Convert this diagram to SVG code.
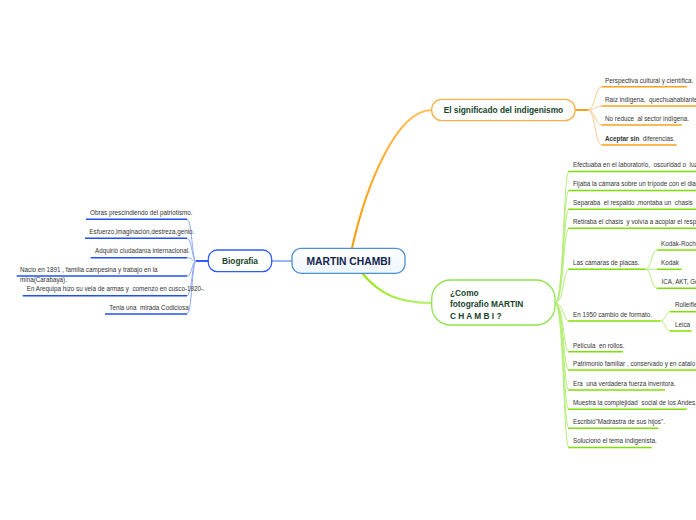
<svg xmlns="http://www.w3.org/2000/svg" width="696" height="520" viewBox="0 0 696 520">
<style>
.t{font-family:"Liberation Sans",Arial,sans-serif;font-size:6.3px;fill:#333;white-space:pre}
.nb{font-family:"Liberation Sans",Arial,sans-serif;font-weight:bold;font-size:8.3px;fill:#16432c}
.cb{font-family:"Liberation Sans",Arial,sans-serif;font-weight:bold;font-size:10.3px;fill:#13244a}
.ub{stroke:#2150f0;stroke-width:1.5;fill:none}
.cbl{stroke:#8ea9fb;stroke-width:1;fill:none}
.uo{stroke:#f7a21b;stroke-width:1.5;fill:none}
.co{stroke:#fcc98a;stroke-width:1;fill:none}
.ug{stroke:#7ee000;stroke-width:1.5;fill:none}
.cg{stroke:#b6ef7a;stroke-width:1;fill:none}
</style>
<defs>
<linearGradient id="go" x1="0" y1="1" x2="1" y2="0">
<stop offset="0" stop-color="#ff9a00"/><stop offset="1" stop-color="#ffc15e"/>
</linearGradient>
<linearGradient id="gg" x1="0" y1="0" x2="1" y2="1">
<stop offset="0" stop-color="#8ee600"/><stop offset="1" stop-color="#b8f070"/>
</linearGradient>
<linearGradient id="gc" x1="0" y1="0" x2="0" y2="1">
<stop offset="0" stop-color="#ffffff"/><stop offset="1" stop-color="#eef6ff"/>
</linearGradient>
</defs>
<rect width="696" height="520" fill="#fff"/>
<g id="connectors">
<path d="M352,248 C365,190 395,110 432,110" stroke="url(#go)" stroke-width="2" fill="none"/>
<path d="M362,273 C380,295 400,303 432,303" stroke="url(#gg)" stroke-width="2" fill="none"/>
<path d="M272,261 H292" stroke="#9ab5f0" stroke-width="2" fill="none"/>
<!-- biografia fan -->
<path d="M208,261 H196" stroke="#2f5cff" stroke-width="2" fill="none"/>
<path class="cbl" d="M196,261 C192,261 192,219.3 187,219.3"/>
<path class="cbl" d="M196,261 C192,261 192,238.3 187,238.3"/>
<path class="cbl" d="M196,261 C192,261 192,257.7 187,257.7"/>
<path class="cbl" d="M196,261 C192,261 192,276 187,276"/>
<path class="cbl" d="M196,261 C192,261 192,295.7 187,295.7"/>
<path class="cbl" d="M196,261 C192,261 192,314 187,314"/>
<!-- orange fan -->
<path d="M575,110 H588" stroke="#f7a21b" stroke-width="2" fill="none"/>
<path class="co" d="M588,110 C595,110 595,86.7 602,86.7"/>
<path class="co" d="M588,110 C595,110 595,106 602,106"/>
<path class="co" d="M588,110 C595,110 595,125 602,125"/>
<path class="co" d="M588,110 C595,110 595,145 602,145"/>
<!-- green fan -->
<path class="cg" d="M555,303 C564,303 563,171.5 569,171.5"/>
<path class="cg" d="M555,303 C564,303 563,190.5 569,190.5"/>
<path class="cg" d="M555,303 C564,303 563,209.3 569,209.3"/>
<path class="cg" d="M555,303 C564,303 563,228.3 569,228.3"/>
<path class="cg" d="M555,303 C564,303 563,269.3 569,269.3"/>
<path class="cg" d="M555,303 C564,303 563,321 569,321"/>
<path class="cg" d="M555,303 C564,303 563,351.7 569,351.7"/>
<path class="cg" d="M555,303 C564,303 563,370 569,370"/>
<path class="cg" d="M555,303 C564,303 563,390 569,390"/>
<path class="cg" d="M555,303 C564,303 563,409.3 569,409.3"/>
<path class="cg" d="M555,303 C564,303 563,428.3 569,428.3"/>
<path class="cg" d="M555,303 C564,303 563,447.5 569,447.5"/>
<!-- sub fans -->
<path class="cg" d="M645,269.3 C652,269.3 651,250 657,250"/>
<path class="cg" d="M645,269.3 H657"/>
<path class="cg" d="M645,269.3 C652,269.3 651,288.3 657,288.3"/>
<path class="cg" d="M660,321 C666,321 665,311.7 670,311.7"/>
<path class="cg" d="M660,321 C666,321 665,331 670,331"/>
</g>
<g id="central">
<rect x="292" y="248.3" width="113" height="25" rx="9" fill="url(#gc)" stroke="#4a8fd6" stroke-width="1.3"/>
<text class="cb" x="348.5" y="265.3" text-anchor="middle">MARTIN CHAMBI</text>
</g>
<g id="biografia">
<rect x="208.3" y="250" width="63.4" height="21.7" rx="9" fill="#fff" stroke="#2f5cff" stroke-width="1.3"/>
<text class="nb" x="240" y="264" text-anchor="middle">Biografia</text>
</g>
<g id="bio-items">
<path class="ub" d="M86,219.3 H187"/><text class="t" x="90" y="214.9">Obras prescindiendo del patriotismo.</text>
<path class="ub" d="M85,238.3 H187"/><text class="t" x="89.3" y="233.9">Esfuerzo,imaginación,destreza,genio.</text>
<path class="ub" d="M90.7,257.7 H187"/><text class="t" x="95" y="252.9">Adquirió ciudadanía internacional.</text>
<path class="ub" d="M16.7,276 H187"/><text class="t" x="20" y="272.2">Nacio en 1891 , familia campesina y trabajo en la</text><text class="t" x="20" y="281.5">mina(Carabaya).</text>
<path class="ub" d="M22.7,295.7 H187"/><text class="t" x="26.7" y="291.2">En Arequipa hizo su vela de armas y  comenzo en cusco-1920-.</text>
<path class="ub" d="M105,314 H187"/><text class="t" x="109.3" y="309.9">Tenia una  mirada Codiciosa</text>
</g>
<g id="indigenismo">
<rect x="431.7" y="99.3" width="143.3" height="21.4" rx="10" fill="#fff" stroke="#f9b04a" stroke-width="1.3"/>
<text class="nb" x="503.4" y="113" text-anchor="middle">El significado del indigenismo</text>
</g>
<g id="indigenismo-items">
<path class="uo" d="M601.7,86.7 H686.7"/><text class="t" x="605" y="83.2">Perspectiva cultural y científica.</text>
<path class="uo" d="M601.7,106 H696"/><text class="t" x="605" y="102.2">Raíz indígena,  quechuahablante,</text>
<path class="uo" d="M601.7,125 H681.7"/><text class="t" x="605" y="121.2">No reduce  al sector indígena.</text>
<path class="uo" d="M601.7,145 H676.7"/><text class="t" x="605" y="140.5"><tspan font-weight="bold">Aceptar sin</tspan>  diferencias.</text>
</g>
<g id="fotografio">
<rect x="431.7" y="280" width="123.3" height="45" rx="19" fill="#fff" stroke="#8fe34d" stroke-width="1.3"/>
<text class="nb" x="450" y="296.3">¿Como</text>
<text class="nb" x="450" y="307.4">fotografio MARTIN</text>
<text class="nb" x="450" y="319">C H A M B I ?</text>
</g>
<g id="fotografio-items">
<path class="ug" d="M568.3,171.5 H696"/><text class="t" x="573" y="167.2">Efectuaba en el laboratorio,  oscuridad o  luz</text>
<path class="ug" d="M568.3,190.5 H696"/><text class="t" x="573" y="186.2">Fijaba la cámara sobre un trípode con el diaf</text>
<path class="ug" d="M568.3,209.3 H696"/><text class="t" x="573" y="205.2">Separaba  el respaldo ,montaba un  chasis  y</text>
<path class="ug" d="M568.3,228.3 H696"/><text class="t" x="573" y="224.2">Retiraba el chasis  y volvía a acoplar el respa</text>
<path class="ug" d="M568.3,269.3 H645"/><text class="t" x="573" y="264.9">Las cámaras de placas.</text>
<path class="ug" d="M568.3,321 H660"/><text class="t" x="573" y="316.7">En 1950 cambio de formato.</text>
<path class="ug" d="M568.3,351.7 H623"/><text class="t" x="573" y="347.7">Película  en rollos.</text>
<path class="ug" d="M568.3,370 H696"/><text class="t" x="573" y="366.2">Patrimonio familiar , conservado y en catalo</text>
<path class="ug" d="M568.3,390 H665"/><text class="t" x="573" y="385.7">Era  una verdadera fuerza inventora.</text>
<path class="ug" d="M568.3,409.3 H686.7"/><text class="t" x="573" y="404.9">Muestra la complejidad  social de los Andes.</text>
<path class="ug" d="M568.3,428.3 H658.3"/><text class="t" x="573" y="423.9">Escribió"Madrastra de sus hijos".</text>
<path class="ug" d="M568.3,447.5 H651.7"/><text class="t" x="573" y="442.9">Solucionó el tema indigenista.</text>
</g>
<g id="camaras-items">
<path class="ug" d="M657,250 H696"/><text class="t" x="661" y="246">Kodak-Roche</text>
<path class="ug" d="M657,269.3 H681.7"/><text class="t" x="661" y="265.3">Kodak</text>
<path class="ug" d="M657,288.3 H696"/><text class="t" x="661.5" y="283.9">ICA, AKT, Ge</text>
</g>
<g id="formato-items">
<path class="ug" d="M670,311.7 H696"/><text class="t" x="675" y="307.2">Rolleifle</text>
<path class="ug" d="M670,331 H691.7"/><text class="t" x="675" y="327.2">Leica</text>
</g>
</svg>
